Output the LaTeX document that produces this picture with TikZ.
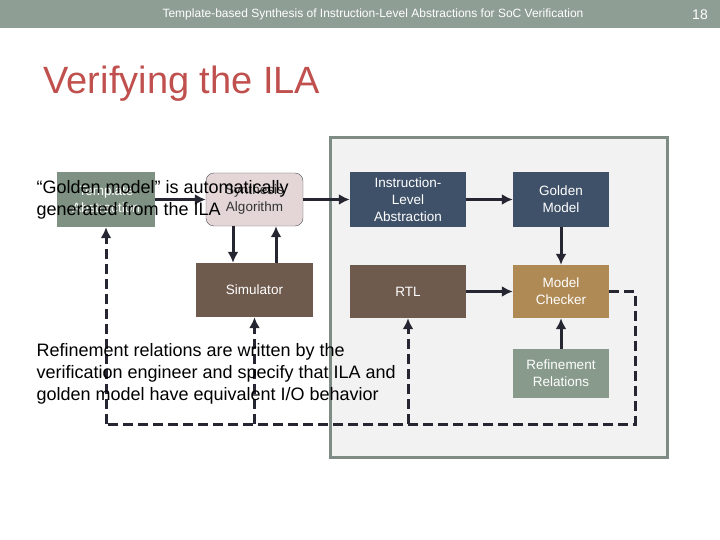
\documentclass[tikz,border=0pt]{standalone}
\usepackage{fontspec}
\setmainfont{Liberation Sans}
\usetikzlibrary{arrows.meta}

\definecolor{barGray}{HTML}{8F9E95}
\definecolor{titleRed}{HTML}{C0504D}
\definecolor{slateBlue}{HTML}{3F5168}
\definecolor{rtlBrown}{HTML}{6F5A4E}
\definecolor{checkTan}{HTML}{B08A55}
\definecolor{refGreen}{HTML}{879A8B}
\definecolor{tmplGreen}{HTML}{7F9182}
\definecolor{synthPink}{HTML}{E4D6D7}
\definecolor{panelGray}{HTML}{F2F2F2}
\definecolor{panelEdge}{HTML}{7F8C85}
\definecolor{lineDark}{HTML}{262633}

\tikzset{
    block/.style={minimum width=#1, text=white, align=center,
        font=\fontsize{13.5}{17}\selectfont, inner sep=0pt},
    flow/.style={line width=3pt, draw=lineDark, ->},
    loopline/.style={line width=3pt, draw=lineDark, dash pattern=on 10pt off 5pt}
}

\begin{document}
\begin{tikzpicture}[x=1pt, y=-1pt, >={Latex[length=11pt,width=11pt]}]

    \useasboundingbox (0,0) rectangle (720,540);

    %% Slide header
    \fill[barGray] (0,0) rectangle (720,28);
    \node[text=white, font=\fontsize{12}{14}\selectfont] (head) at (373,14)
        {Template-based Synthesis of Instruction-Level Abstractions for SoC Verification};
    \node[text=white, font=\fontsize{14}{16}\selectfont] (page) at (700,15) {18};

    % Title
    \node[anchor=west, text=titleRed, font=\fontsize{38}{44}\selectfont] (title) at (40,84)
        {Verifying the ILA};

    %% Verification panel
    \draw[panelEdge, fill=panelGray, line width=3pt] (330,138) rectangle (667,457);

    % Inputs to synthesis
    \node[block=98pt, minimum height=55pt, fill=tmplGreen] (tmpl) at (106,199.5)
        {Template\\Abstraction};
    \node[block=97pt, minimum height=53pt, fill=synthPink, draw=lineDark!80,
          rounded corners=8pt, text=black!80] (synth) at (254.5,199.5)
        {Synthesis\\Algorithm};
    \node[block=117pt, minimum height=54pt, fill=rtlBrown] (sim) at (254.5,290)
        {Simulator};

    % Models
    \node[block=116pt, minimum height=55pt, fill=slateBlue] (ila) at (408,199.5)
        {Instruction-\\Level\\Abstraction};
    \node[block=96pt, minimum height=55pt, fill=slateBlue] (golden) at (561,199.5)
        {Golden\\Model};
    \node[block=116pt, minimum height=53pt, fill=rtlBrown] (rtl) at (408,291.5)
        {RTL};
    \node[block=96pt, minimum height=53pt, fill=checkTan] (mc) at (561,291.5)
        {Model\\Checker};
    \node[block=96pt, minimum height=49pt, fill=refGreen] (refrel) at (561,373.5)
        {Refinement\\Relations};

    % Solid connectors
    \draw[flow] (tmpl) -- (synth);
    \draw[flow] (synth) -- (ila);
    \draw[flow] (ila) -- (golden);
    \draw[flow] (golden) -- (mc);
    \draw[flow] (rtl) -- (mc);
    \draw[flow] (refrel) -- (mc);
    \draw[flow] ([xshift=-21.5pt]synth.south) -- ([xshift=-21.5pt]sim.north);
    \draw[flow] ([xshift=21.5pt]sim.north) -- ([xshift=21.5pt]synth.south);

    %% Feedback loop
    \coordinate (loopR) at (635,424);
    \coordinate (loopT) at (408,424);
    \coordinate (loopS) at (254.5,424);
    \coordinate (loopL) at (106,424);
    \draw[loopline] (mc.east) -- (mc.east -| loopR) -- (loopR) -- (loopL);
    \draw[loopline, ->] (loopT) -- (rtl.south);
    \draw[loopline, ->] (loopS) -- (sim.south);
    \draw[loopline, ->] (loopL) -- (tmpl.south);

    % Notes
    \node[anchor=west, align=left, font=\fontsize{18}{22}\selectfont] (noteGold) at (33,200)
        {“Golden model” is automatically\\generated from the ILA};
    \node[anchor=west, align=left, font=\fontsize{18}{22}\selectfont] (noteRef) at (33,374)
        {Refinement relations are written by the\\verification engineer and specify that ILA and\\golden model have equivalent I/O behavior};

\end{tikzpicture}
\end{document}
